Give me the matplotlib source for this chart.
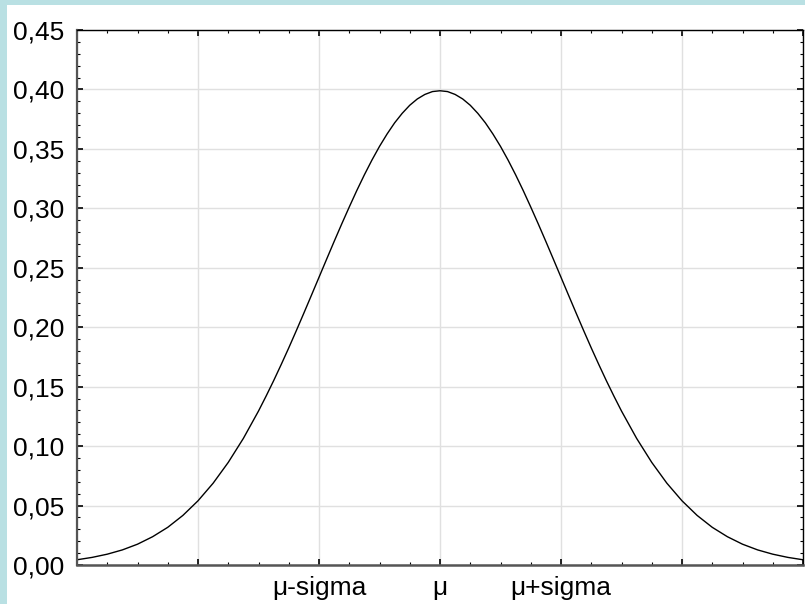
import matplotlib
matplotlib.use("Agg")
import matplotlib.pyplot as plt
from matplotlib.ticker import MultipleLocator, FixedLocator, FuncFormatter

plt.rcParams['font.family'] = ['Liberation Sans', 'DejaVu Sans']

# Curve values (x in sigma units, right half; left half mirrored)
x_half = [0.0, 0.0625, 0.125, 0.1875, 0.25, 0.3125, 0.375, 0.4375, 0.5, 0.5625,
          0.625, 0.6875, 0.75, 0.8125, 0.875, 0.9375, 1.0, 1.0625, 1.125, 1.1875,
          1.25, 1.3125, 1.375, 1.4375, 1.5, 1.625, 1.75, 1.875, 2.0, 2.125, 2.25,
          2.375, 2.5, 2.625, 2.75, 2.875, 3.0]
y_half = [0.3989, 0.3982, 0.3958, 0.3920, 0.3867, 0.3799, 0.3719, 0.3625, 0.3521,
          0.3406, 0.3282, 0.3150, 0.3011, 0.2868, 0.2721, 0.2571, 0.2420, 0.2269,
          0.2119, 0.1971, 0.1826, 0.1686, 0.1550, 0.1420, 0.1295, 0.1065, 0.0863,
          0.0688, 0.0540, 0.0417, 0.0317, 0.0238, 0.0175, 0.0127, 0.0091, 0.0064,
          0.0044]

xs = [-v for v in x_half[:0:-1]] + x_half
ys = y_half[:0:-1] + y_half

x_ticks = [-3, -2, -1, 0, 1, 2, 3]
x_tick_labels = ["", "", "μ-sigma", "μ", "μ+sigma", "", ""]
y_ticks = [0.00, 0.05, 0.10, 0.15, 0.20, 0.25, 0.30, 0.35, 0.40, 0.45]

W, H = 805, 604
fig = plt.figure(figsize=(W / 100, H / 100), dpi=100)
fig.patch.set_facecolor('#b9e0e3')
# white panel inset
bg = fig.add_axes([7 / W, 0, 1 - 7 / W, 1 - 5 / H])
bg.set_facecolor('white')
bg.set_xticks([]); bg.set_yticks([])
for s in bg.spines.values():
    s.set_visible(False)

ax = fig.add_axes([77 / W, 1 - 565 / H, (803 - 77) / W, (565 - 30) / H])
ax.plot(xs, ys, color='black', lw=1.0)
ax.set_xlim(-3, 3)
ax.set_ylim(0, 0.45)

ax.xaxis.set_major_locator(FixedLocator(x_ticks))
ax.set_xticklabels(x_tick_labels)
ax.xaxis.set_minor_locator(MultipleLocator(0.25))
ax.set_yticks(y_ticks)
ax.yaxis.set_major_formatter(FuncFormatter(lambda v, p: f"{v:.2f}".replace('.', ',')))
ax.yaxis.set_minor_locator(MultipleLocator(0.01))

ax.grid(True, which='major', color='#e0e0e0', lw=1.0)
ax.set_axisbelow(True)

ax.tick_params(which='both', direction='in', top=True, right=True,
               labelsize=19, colors='black')
ax.tick_params(which='major', length=4, width=1.2)
ax.tick_params(which='minor', length=2.5, width=0.8)
ax.tick_params(axis='y', pad=9)
ax.tick_params(axis='x', pad=8)

ax.spines['left'].set_color('#555555'); ax.spines['left'].set_linewidth(1.6)
ax.spines['bottom'].set_color('#555555'); ax.spines['bottom'].set_linewidth(1.8)
ax.spines['top'].set_color('black'); ax.spines['top'].set_linewidth(1.0)
ax.spines['right'].set_color('black'); ax.spines['right'].set_linewidth(1.0)

fig.savefig('out.png', dpi=100, facecolor=fig.get_facecolor())
